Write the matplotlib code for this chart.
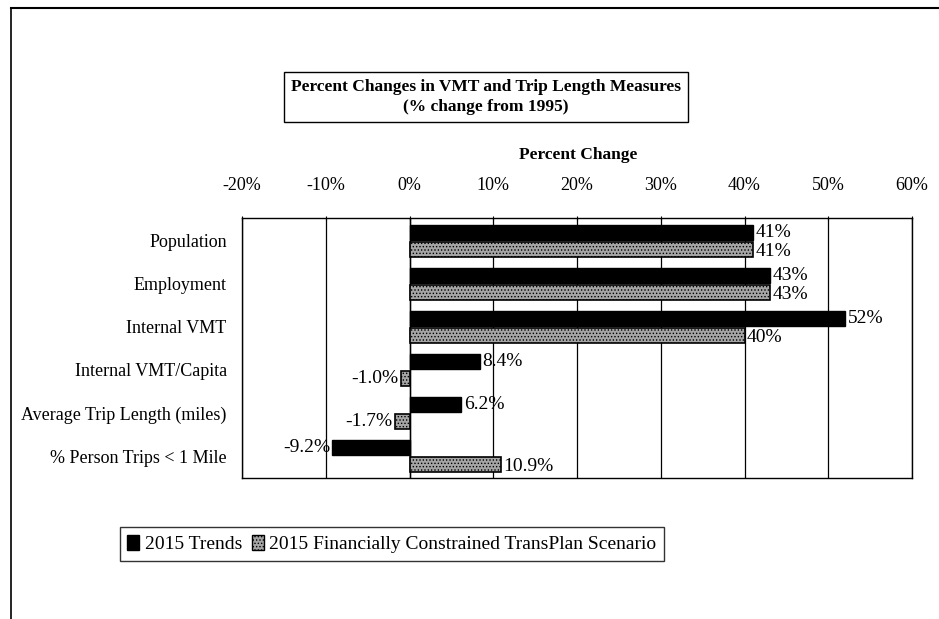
import matplotlib
matplotlib.use("Agg")
import matplotlib.pyplot as plt
from matplotlib.patches import Patch
from matplotlib.lines import Line2D
import numpy as np

plt.rcParams['font.family'] = ['Liberation Serif', 'DejaVu Serif']
plt.rcParams['hatch.linewidth'] = 0.6

categories = ["Population", "Employment", "Internal VMT", "Internal VMT/Capita",
              "Average Trip Length (miles)", "% Person Trips < 1 Mile"]
trends = [41, 43, 52, 8.4, 6.2, -9.2]
constrained = [41, 43, 40, -1.0, -1.7, 10.9]
trend_labels = ["41%", "43%", "52%", "8.4%", "6.2%", "-9.2%"]
constrained_labels = ["41%", "43%", "40%", "-1.0%", "-1.7%", "10.9%"]
xticks = [-20, -10, 0, 10, 20, 30, 40, 50, 60]
xtick_labels = ["-20%", "-10%", "0%", "10%", "20%", "30%", "40%", "50%", "60%"]
series_names = ["2015 Trends", "2015 Financially Constrained TransPlan Scenario"]
title_lines = ["Percent Changes in VMT and Trip Length Measures", "(% change from 1995)"]
axis_title = "Percent Change"

fig = plt.figure(figsize=(9.39, 6.19), dpi=100)
ax = fig.add_axes([242/939, 1-478/619, (912-242)/939, (478-218)/619])

y = np.arange(len(categories))
h = 0.34
off = 0.2
gray_fc = '#a5a5a5'
ax.barh(y - off, trends, height=h, color='black', edgecolor='black', zorder=3)
ax.barh(y + off, constrained, height=h, color=gray_fc, edgecolor='black',
        hatch='.....', linewidth=1.2, zorder=3)

fs_val = 14
for yi, v, lab in zip(y - off, trends, trend_labels):
    if v >= 0:
        ax.text(v + 0.3, yi, lab, va='center', ha='left', fontsize=fs_val, zorder=4)
    else:
        ax.text(v - 0.2, yi, lab, va='center', ha='right', fontsize=fs_val, zorder=4)
for yi, v, lab in zip(y + off, constrained, constrained_labels):
    if v >= 0:
        ax.text(v + 0.3, yi + 0.05, lab, va='center', ha='left', fontsize=fs_val, zorder=4)
    else:
        ax.text(v - 0.3, yi, lab, va='center', ha='right', fontsize=fs_val, zorder=4)

ax.set_xlim(-20, 60)
ax.set_ylim(5.51, -0.53)
ax.set_yticks(y)
ax.set_yticklabels(categories, fontsize=13)
ax.tick_params(axis='y', length=0, pad=11)
ax.xaxis.tick_top()
ax.set_xticks(xticks)
ax.set_xticklabels(xtick_labels, fontsize=13)
ax.tick_params(axis='x', length=3, direction='inout', pad=16)
ax.grid(axis='x', color='black', linewidth=0.9, zorder=1)
ax.axvline(0, color='black', linewidth=1.0, zorder=2)
for s in ax.spines.values():
    s.set_color('black')
    s.set_linewidth(1.0)

fig.text(578/939, 1-155/619, axis_title, ha='center', va='center',
         fontsize=12.5, fontweight='bold')

fig.text(486/939, 1-97/619, "\n".join(title_lines), ha='center', va='center',
         fontsize=12.5, fontweight='bold', linespacing=1.4,
         bbox=dict(boxstyle='square,pad=0.4', facecolor='white', edgecolor='black', linewidth=1.0))

handles = [Patch(facecolor='black', edgecolor='black'),
           Patch(facecolor=gray_fc, edgecolor='black', hatch='.....')]
leg = fig.legend(handles, series_names, loc='center', bbox_to_anchor=(392/939, 1-544/619),
                 ncol=2, frameon=True, fancybox=False, edgecolor='black', fontsize=14,
                 handlelength=0.6, handleheight=0.8, handletextpad=0.3, columnspacing=0.5,
                 borderpad=0.4, borderaxespad=0)
leg.get_frame().set_linewidth(1.0)

# page border lines (left and top)
fig.add_artist(Line2D([11/939, 11/939], [0, 1-8/619], color='black', linewidth=1.2))
fig.add_artist(Line2D([11/939, 1], [1-8/619, 1-8/619], color='black', linewidth=1.5))

fig.savefig("out.png", dpi=100)
